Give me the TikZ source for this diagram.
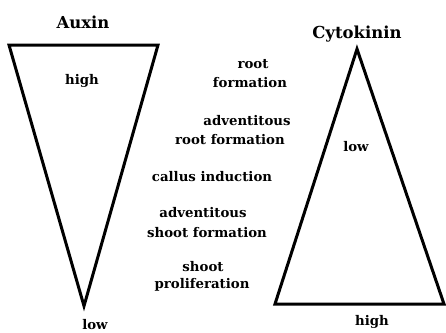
\documentclass[tikz,border=0pt]{standalone}
\usepackage{fontspec}
\setmainfont{DejaVu Serif}
\tikzset{
  tri/.style={draw=black, line width=3pt, line join=miter},
  lbl/.style={font=\bfseries\fontsize{13.3}{19}\selectfont, inner sep=0pt},
  ttl/.style={font=\bfseries\fontsize{16.5}{19}\selectfont, inner sep=0pt},
}
\begin{document}
\begin{tikzpicture}[x=1pt,y=-1pt]
\useasboundingbox (0,0) rectangle (446,332);
% Auxin triangle
\coordinate (a1) at (9,45);
\coordinate (a2) at (158,45);
\coordinate (a3) at (84,306);
\draw[tri] (a1) -- (a2) -- (a3) -- cycle;
% Cytokinin triangle
\coordinate (c1) at (357,49);
\coordinate (c2) at (444,304);
\coordinate (c3) at (275,304);
\draw[tri] (c1) -- (c2) -- (c3) -- cycle;
\node[ttl] (auxin) at (83,22) {Auxin};
\node[lbl] (ahigh) at (82,81) {high};
\node[lbl] (alow) at (95,325) {low};
\node[ttl] (cyto) at (357,34) {Cytokinin};
\node[lbl] (clow) at (356,147) {low};
\node[lbl] (chigh) at (372,322) {high};
\node[lbl] (t1a) at (253,64) {root};
\node[lbl] (t1b) at (250,83) {formation};
\node[lbl] (t2a) at (247,121) {adventitous};
\node[lbl] (t2b) at (230,140) {root formation};
\node[lbl] (t3) at (212,177) {callus induction};
\node[lbl] (t4a) at (203,213) {adventitous};
\node[lbl] (t4b) at (207,233) {shoot formation};
\node[lbl] (t5a) at (203,267) {shoot};
\node[lbl] (t5b) at (202,285) {proliferation};
\end{tikzpicture}
\end{document}
